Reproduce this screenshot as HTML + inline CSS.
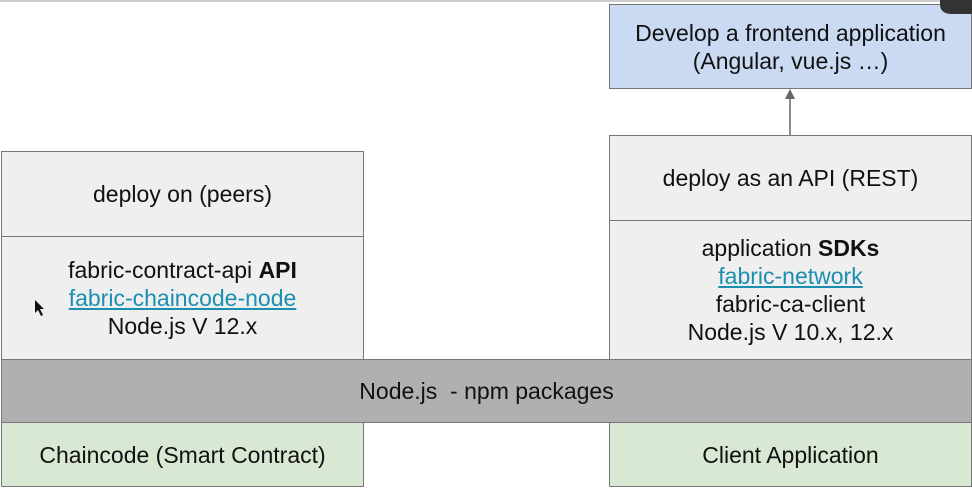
<!DOCTYPE html>
<html><head><style>
body{margin:0;width:972px;height:489px;background:#fff;position:relative;overflow:hidden;font-family:"Liberation Sans",sans-serif;color:#111}
.b{position:absolute;box-sizing:border-box;border:1.5px solid #777;display:flex;align-items:center;justify-content:center;text-align:center;font-size:23px;line-height:28px}
.g{background:#efefef}.gr{background:#b0b0b0}.gn{background:#d9e8d3}.bl{background:#c9daf2}
a{color:#1c8fb0;text-decoration:underline}
</style></head><body>
<div style="position:absolute;left:0;top:0;width:972px;height:2px;background:#ccc"></div>
<div class="b g" style="left:1px;top:151px;width:363px;height:86px">deploy on (peers)</div>
<div class="b g" style="left:1px;top:236px;width:363px;height:124px"><div>fabric-contract-api <b>API</b><br><a>fabric-chaincode-node</a><br>Node.js V 12.x</div></div>
<div class="b bl" style="left:609px;top:4px;width:363px;height:85px">Develop a frontend application<br>(Angular, vue.js …)</div>
<div class="b g" style="left:609px;top:135px;width:363px;height:86px">deploy as an API (REST)</div>
<div class="b g" style="left:609px;top:220px;width:363px;height:140px"><div>application <b>SDKs</b><br><a>fabric-network</a><br>fabric-ca-client<br>Node.js V 10.x, 12.x</div></div>
<div class="b gr" style="left:1px;top:359px;width:971px;height:64px">Node.js&nbsp;&nbsp;- npm packages</div>
<div class="b gn" style="left:1px;top:422px;width:363px;height:65px">Chaincode (Smart Contract)</div>
<div class="b gn" style="left:609px;top:422px;width:363px;height:65px">Client Application</div>
<svg style="position:absolute;left:0;top:0" width="972" height="489">
<line x1="790" y1="135" x2="790" y2="98" stroke="#666" stroke-width="1.5"/>
<polygon points="785,99 795,99 790,89" fill="#666"/>
<path d="M940 0 H972 V14 H952 Q940 14 940 4 Z" fill="#333"/>
<path d="M35 300 L35 313 L38 310 L41 316 L43 315 L40 309 L44 309 Z" fill="#111"/>
</svg>
</body></html>
